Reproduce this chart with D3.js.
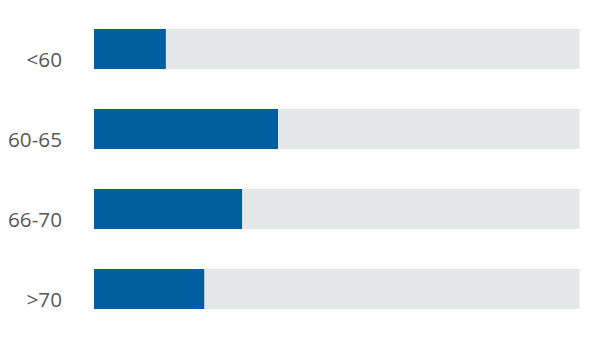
<!DOCTYPE html>
<html>
<head>
<meta charset="utf-8">
<script src="https://cdn.jsdelivr.net/npm/d3@7"></script>
<style>
  body { margin: 0; background: #fff; }
  text { font-family: "Open Sans", sans-serif; }
</style>
</head>
<body>
<div id="chart"></div>
<script>
var categories = ["<60", "60-65", "66-70", ">70"];
var values = [14.8, 37.9, 30.5, 22.7];
var maxValue = 100;

var width = 590,
  height = 340;

var svg = d3.select("#chart").append("svg")
  .attr("width", width)
  .attr("height", height);

var x = d3.scaleLinear()
  .domain([0, maxValue])
  .range([94, 579.5]);

var y = d3.scaleBand()
  .domain(categories)
  .range([9, 329])
  .paddingInner(0.5)
  .paddingOuter(0.25);

// grey track behind each bar
svg.selectAll(".track")
  .data(categories)
  .enter().append("rect")
  .attr("class", "track")
  .attr("x", x(0))
  .attr("y", function(d) { return y(d); })
  .attr("width", x(maxValue) - x(0))
  .attr("height", y.bandwidth())
  .style("fill", "#e5e6e7");

svg.selectAll(".bar")
  .data(values)
  .enter().append("rect")
  .attr("class", "bar")
  .attr("x", x(0))
  .attr("y", function(d, i) { return y(categories[i]); })
  .attr("width", function(d) { return x(d) - x(0); })
  .attr("height", y.bandwidth())
  .style("fill", "#00609f");

svg.selectAll(".label")
  .data(categories)
  .enter().append("text")
  .attr("class", "label")
  .text(function(d) { return d; })
  .attr("x", 62)
  .attr("y", function(d) { return y(d) + y.bandwidth() - 2.5; })
  .attr("text-anchor", "end")
  .style("font-size", "20.7px")
  .style("fill", "#595959");
</script>
</body>
</html>
